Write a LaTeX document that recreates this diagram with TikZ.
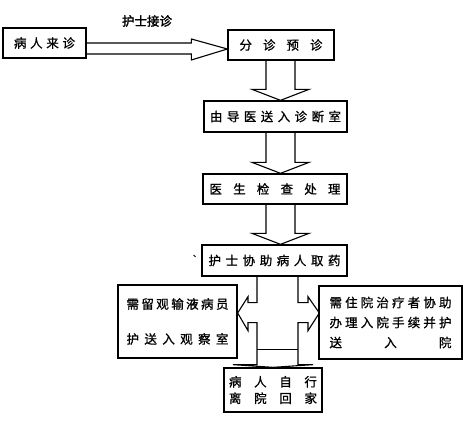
\documentclass[tikz,border=0pt]{standalone}
\usepackage{fontspec}
\newfontfamily\cjk[FakeBold=1]{Noto Sans CJK SC}
\newfontfamily\cjkb[FakeBold=2]{Noto Sans CJK SC}
\usetikzlibrary{calc}

\newcommand{\spread}[2]{\makebox[#1][s]{#2}}
% block arrow downwards on the common axis
\newcommand{\fatdown}[2]{%
  \draw[fat] ($(ax |- #1.south)+(-14.5,0)$) -- ($(ax |- #2.north)+(-14.5,-11)$)
    -- ($(ax |- #2.north)+(-28.5,-11)$) -- (ax |- #2.north)
    -- ($(ax |- #2.north)+(28.5,-11)$) -- ($(ax |- #2.north)+(14.5,-11)$)
    -- ($(ax |- #1.south)+(14.5,0)$);}

\tikzset{
  box/.style={draw, line width=1.3pt, inner sep=0pt, align=center,
    font=\cjk\fontsize{12.5}{15}\selectfont},
  fat/.style={draw, line width=1.1pt, line join=miter},
}

\begin{document}
\begin{tikzpicture}[x=1pt,y=-1pt]
\useasboundingbox (0,0) rectangle (467,425);

\node[box, minimum width=83, minimum height=30] (lai) at (44.5,43) {\spread{61pt}{病 人 来 诊}};
\node[box, minimum width=106, minimum height=30] (fz) at (281,45) {\spread{83pt}{分 诊 预 诊}};
\node[box, minimum width=143, minimum height=31] (dy) at (275.5,116.5) {\spread{131pt}{由 导 医 送 入 诊 断 室}};
\node[box, minimum width=144, minimum height=30] (jc) at (275,189) {\spread{131pt}{医 生 检 查 处 理}};
\node[box, minimum width=145, minimum height=31] (qy) at (274.5,260.5) {\spread{132pt}{护 士 协 助 病 人 取 药}};
\node[box, minimum width=119, minimum height=73] (lg) at (177.5,321.5)
  {\spread{102pt}{需 留 观 输 液 病 员}\\[20pt]\spread{102pt}{护 送 入 观 察 室}};
\node[box, minimum width=143, minimum height=73, font=\cjk\fontsize{12.5}{20}\selectfont] (zy) at (390.5,322.5)
  {\spread{122pt}{需 住 院 治 疗 者 协 助}\\\spread{122pt}{办 理 入 院 手 续 并 护}\\\spread{122pt}{送 入 院}};
\node[box, minimum width=98, minimum height=44, font=\cjk\fontsize{12.5}{16.5}\selectfont] (lj) at (273,390)
  {\spread{88pt}{病 人 自 行}\\\spread{88pt}{离 院 回 家}};

\node[font=\cjkb\fontsize{12.5}{15}\selectfont, inner sep=0pt] (jz) at (147,21) {护士接诊};
\node[font=\cjk\fontsize{8}{10}\selectfont, inner sep=0pt] (dun) at (197,256) {、};

% arrow to triage
\coordinate (tipa) at ($(fz.west)+(0,4)$);
\draw[fat] (lai.east) -- ($(tipa)+(-36,-6)$) -- ($(tipa)+(-36,-10)$) -- (tipa)
  -- ($(tipa)+(-36,11)$) -- ($(tipa)+(-36,5)$) -- ($(lai.east)+(0,11)$);

% arrows down
\coordinate (ax) at ($(fz.south)+(-0.5,0)$);
\fatdown{fz}{dy}
\fatdown{dy}{jc}
\fatdown{jc}{qy}

% fork
\coordinate (f) at ($(qy.south)+(3,0)$);
\coordinate (tl) at ($(lg.east)+(0,-8.5)$);
\coordinate (tr) at ($(zy.west)+(1,-9.5)$);
\draw[fat] ($(f)+(-20.5,0)$) -- ++(0,26) -- ++(-9,0) -- ++(0,-6) -- (tl)
  -- ($(f)+(-29.5,54)$) -- ++(0,-8) -- ++(9,0) -- ($(f)+(-20.5,88)$)
  -- ($(f)+(-44.5,88)$) -- (lj.north) -- ($(f)+(35.5,88)$) -- ($(f)+(20.5,88)$)
  -- ($(f)+(20.5,46)$) -- ++(10,0) -- ++(0,8) -- (tr) -- ($(f)+(30.5,20)$)
  -- ++(0,6) -- ++(-10,0) -- ($(f)+(20.5,0)$);
\draw[fat] ($(f)+(-20.5,73)$) -- ($(f)+(20.5,73)$);
\end{tikzpicture}
\end{document}
